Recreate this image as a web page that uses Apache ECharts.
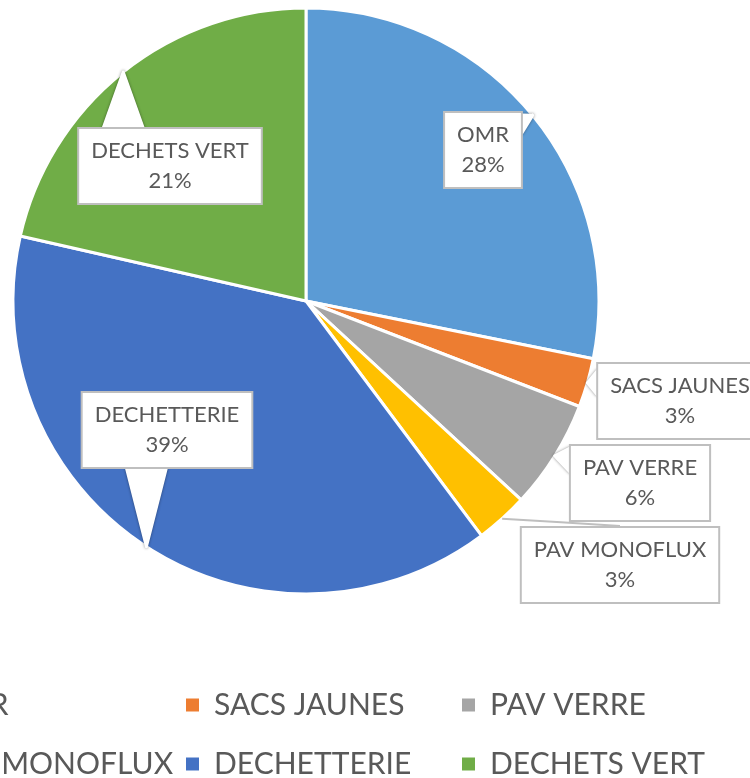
<!DOCTYPE html>
<html>
<head>
<meta charset="utf-8">
<script src="https://cdn.jsdelivr.net/npm/echarts@6/dist/echarts.min.js"></script>
<style>
  html, body { margin: 0; padding: 0; width: 750px; height: 778px; overflow: hidden; background: #fff; }
  /* the reference is a crop of a wider chart: the canvas sticks out on the left */
  #chart { position: absolute; left: -200px; top: 0; width: 1200px; height: 860px; }
</style>
</head>
<body>
<div id="chart"></div>
<script>
const categories = ["OMR", "SACS JAUNES", "PAV VERRE", "PAV MONOFLUX", "DECHETTERIE", "DECHETS VERT"];
const shares = [28.1, 2.7, 6.0, 2.9, 38.7, 21.4];
const colors = ["#5B9BD5", "#ED7D31", "#A5A5A5", "#FFC000", "#4472C4", "#70AD47"];

// legend columns (Excel lays it out row by row, 3 per row)
const legendCols = [
  ["OMR", "PAV MONOFLUX"],
  ["SACS JAUNES", "DECHETTERIE"],
  ["PAV VERRE", "DECHETS VERT"]
];

const CX = 506, CY = 301, R = 293;
// callout box centres relative to the pie centre
const labelOffsets = [[177, -151], [374, 100], [334, 182], [314, 264], [-139, 129], [-136, -135]];
// half width of the callout wedge base, 0 = plain leader line
const wedgeHalf = [9, 12, 12, 0, 20, 20];

const FONT = 'Lato, "Liberation Sans", Arial, sans-serif';

const chart = echarts.init(document.getElementById("chart"));

const total = shares.reduce((a, b) => a + b, 0);
const midAngles = [];
let acc = 0;
shares.forEach(v => {
  midAngles.push(((acc + v / 2) / total) * Math.PI * 2);
  acc += v;
});

// slices
const sliceData = categories.map((name, i) => ({
  name: name,
  value: shares[i],
  itemStyle: { color: colors[i] }
}));

// same values again, transparent, only to carry the callouts above every slice
const calloutData = categories.map((name, i) => ({
  name: name,
  value: shares[i],
  itemStyle: { color: "rgba(0,0,0,0)", borderWidth: 0 },
  labelLine: {
    lineStyle: wedgeHalf[i] > 0
      ? { color: "#ffffff", width: 3, join: "round", cap: "round", shadowBlur: 3, shadowColor: "rgba(0,0,0,0.45)" }
      : { color: "#bfbfbf", width: 2 }
  }
}));

function clamp(v, lo, hi) { return Math.min(Math.max(v, lo), hi); }

chart.setOption({
  animation: false,
  legend: legendCols.map((col, k) => ({
    orient: "vertical",
    left: 108 + k * 276,
    top: 685,
    padding: 0,
    itemGap: 19,
    itemWidth: 15,
    itemHeight: 15,
    icon: "rect",
    selectedMode: false,
    data: col,
    textStyle: {
      color: "#595959",
      fontSize: 30,
      fontFamily: FONT,
      lineHeight: 40,
      padding: [0, 0, 0, 9]
    }
  })),
  series: [
    {
      type: "pie",
      z: 2,
      center: [CX, CY],
      radius: R,
      startAngle: 90,
      clockwise: true,
      emphasis: { disabled: true },
      itemStyle: { borderColor: "#ffffff", borderWidth: 3 },
      label: { show: false },
      labelLine: { show: false },
      data: sliceData
    },
    {
      type: "pie",
      z: 3,
      center: [CX, CY],
      radius: R,
      startAngle: 90,
      clockwise: true,
      percentPrecision: 0,
      avoidLabelOverlap: false,
      silent: true,
      emphasis: { disabled: true },
      label: {
        show: true,
        position: "outside",
        formatter: "{b}\n{d}%",
        color: "#595959",
        fontSize: 22,
        fontFamily: FONT,
        lineHeight: 30,
        align: "center",
        backgroundColor: "#ffffff",
        borderColor: "#bfbfbf",
        borderWidth: 2,
        padding: [7, 12]
      },
      labelLine: { show: true, length: 10, length2: 10 },
      labelLayout: function (params) {
        const i = params.dataIndex;
        const x = CX + labelOffsets[i][0];
        const y = CY + labelOffsets[i][1];
        const w = params.labelRect.width, h = params.labelRect.height;
        const a = midAngles[i];
        const tip = [CX + R * Math.sin(a), CY - R * Math.cos(a)];
        const l = x - w / 2, r = x + w / 2, t = y - h / 2, b = y + h / 2;
        const hw = wedgeHalf[i];
        let points;
        if (hw === 0) {
          // plain leader line to the middle of the nearest side
          const end = tip[1] < t ? [x, t] : tip[1] > b ? [x, b] : tip[0] < l ? [l, y] : [r, y];
          points = [tip, [(tip[0] + end[0]) / 2, (tip[1] + end[1]) / 2], end];
        } else {
          // callout wedge: fan of strokes from the tip to the box side
          let p0, p1;
          if (tip[1] < t || tip[1] > b) {
            const sy = tip[1] < t ? t + 1 : b - 1;
            const cxb = clamp(tip[0], l + hw + 4, r - hw - 4);
            p0 = [cxb - hw, sy]; p1 = [cxb + hw, sy];
          } else {
            const sx = tip[0] < l ? l + 1 : r - 1;
            const cyb = clamp(tip[1], t + hw + 4, b - hw - 4);
            p0 = [sx, cyb - hw]; p1 = [sx, cyb + hw];
          }
          points = [tip];
          const n = Math.max(4, Math.round(hw * 2 / 2.5));
          for (let j = 0; j <= n; j++) {
            const f = j / n;
            points.push([p0[0] + (p1[0] - p0[0]) * f, p0[1] + (p1[1] - p0[1]) * f], tip);
          }
        }
        return {
          x: x,
          y: y,
          align: "center",
          verticalAlign: "middle",
          labelLinePoints: points
        };
      },
      data: calloutData
    }
  ]
});

window.addEventListener("resize", () => chart.resize());
</script>
</body>
</html>
